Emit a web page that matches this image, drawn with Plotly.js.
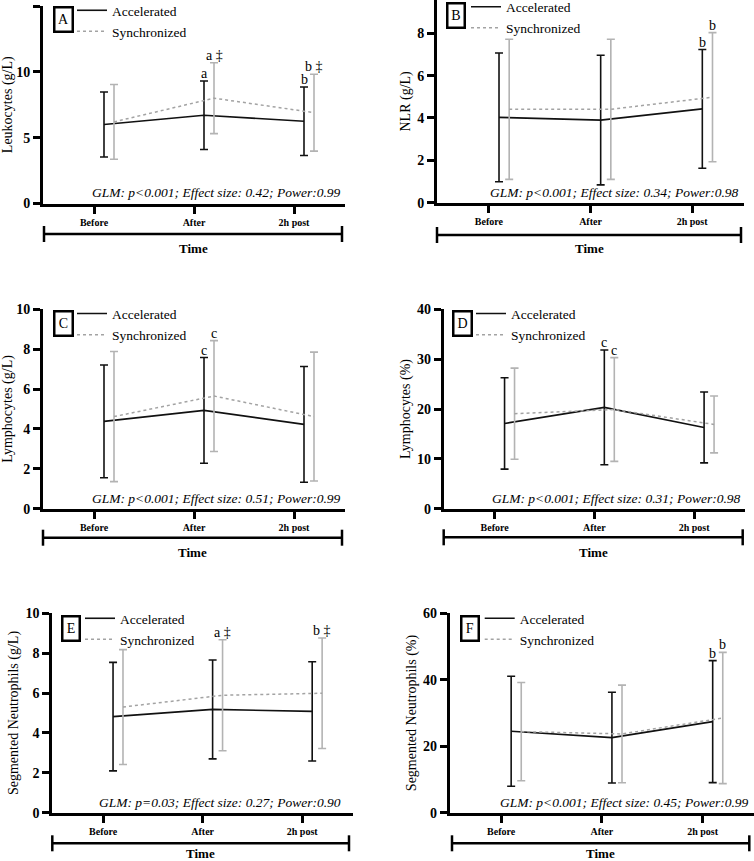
<!DOCTYPE html>
<html>
<head>
<meta charset="utf-8">
<script src="https://cdn.plot.ly/plotly-3.0.1.min.js"></script>
<style>html,body{margin:0;padding:0;background:#fff;}#chart{width:754px;height:861px;}</style>
</head>
<body>
<div id="chart"></div>
<script>
// ---------- DATA ----------
const categories = ["Before", "After", "2h post"];
const seriesNames = ["Accelerated", "Synchronized"];

// A: Leukocytes (g/L)
const leukAccMean = [6.0, 6.7, 6.25];
const leukAccSD   = [2.47, 2.6, 2.6];
const leukSynMean = [6.2, 8.0, 6.9];
const leukSynSD   = [2.84, 2.69, 2.92];
const leukAccMarks = ["", "a", "b"];
const leukSynMarks = ["", "a \u2021", "b \u2021"];

// B: NLR (g/L)
const nlrAccMean = [4.03, 3.9, 4.43];
const nlrAccSD   = [3.04, 3.06, 2.8];
const nlrSynMean = [4.41, 4.41, 4.98];
const nlrSynSD   = [3.31, 3.31, 3.05];
const nlrAccMarks = ["", "", "b"];
const nlrSynMarks = ["", "", "b"];

// C: Lymphocytes (g/L)
const lymAccMean = [4.38, 4.93, 4.23];
const lymAccSD   = [2.83, 2.65, 2.9];
const lymSynMean = [4.62, 5.65, 4.62];
const lymSynSD   = [3.26, 2.78, 3.23];
const lymAccMarks = ["", "c", ""];
const lymSynMarks = ["", "c", ""];

// D: Lymphocytes (%)
const lymPctAccMean = [17.1, 20.33, 16.3];
const lymPctAccSD   = [9.17, 11.5, 7.1];
const lymPctSynMean = [19.06, 19.9, 16.9];
const lymPctSynSD   = [9.14, 10.4, 5.7];
const lymPctAccMarks = ["", "c", ""];
const lymPctSynMarks = ["", "c", ""];

// E: Segmented Neutrophils (g/L)
const neuAccMean = [4.82, 5.18, 5.08];
const neuAccSD   = [2.72, 2.48, 2.49];
const neuSynMean = [5.3, 5.89, 5.99];
const neuSynSD   = [2.88, 2.78, 2.77];
const neuAccMarks = ["", "", ""];
const neuSynMarks = ["", "a \u2021", "b \u2021"];

// F: Segmented Neutrophils (%)
const neuPctAccMean = [24.5, 22.6, 27.4];
const neuPctAccSD   = [16.55, 13.65, 18.35];
const neuPctSynMean = [24.4, 23.7, 28.5];
const neuPctSynSD   = [14.8, 14.7, 19.75];
const neuPctAccMarks = ["", "", "b"];
const neuPctSynMarks = ["", "", "b"];

const panelLetters = ["A", "B", "C", "D", "E", "F"];
const yTitles = ["Leukocytes (g/L)", "NLR (g/L)", "Lymphocytes (g/L)", "Lymphocytes (%)",
                 "Segmented Neutrophils (g/L)", "Segmented Neutrophils (%)"];
const glmTexts = [
  "GLM: p<0.001; Effect size: 0.42; Power:0.99",
  "GLM: p<0.001; Effect size: 0.34; Power:0.98",
  "GLM: p<0.001; Effect size: 0.51; Power:0.99",
  "GLM: p<0.001; Effect size: 0.31; Power:0.98",
  "GLM: p=0.03; Effect size: 0.27; Power:0.90",
  "GLM: p<0.001; Effect size: 0.45; Power:0.99"
];
const xAxisTitle = "Time";

// ---------- LAYOUT GEOMETRY (pixels) ----------
const W = 754, H = 861;
const px = v => v / W;
const py = v => 1 - v / H;
const SERIF = "'Liberation Serif', serif";

const panels = [
  {acc:[leukAccMean, leukAccSD, leukAccMarks], syn:[leukSynMean, leukSynSD, leukSynMarks],
   L:43, R:345, T:6, B:203.5, ymax:15, dtick:5, legX:112, legY:11, box:[54,72,7,32],
   br:[44,342,234], timeY:248, glm:[343,193]},
  {acc:[nlrAccMean, nlrAccSD, nlrAccMarks], syn:[nlrSynMean, nlrSynSD, nlrSynMarks],
   L:437, R:744, T:0, B:202.7, ymax:9.57, dtick:2, legX:506, legY:7.5, box:[447.7,464.7,3.3,28.3],
   br:[437,741,235], timeY:248, glm:[741,192.7]},
  {acc:[lymAccMean, lymAccSD, lymAccMarks], syn:[lymSynMean, lymSynSD, lymSynMarks],
   L:43, R:345, T:309.3, B:508.7, ymax:10, dtick:2, legX:112, legY:314.3, box:[54,72,310.7,336],
   br:[43,342,537.7], timeY:552.3, glm:[343.3,498.3]},
  {acc:[lymPctAccMean, lymPctAccSD, lymPctAccMarks], syn:[lymPctSynMean, lymPctSynSD, lymPctSynMarks],
   L:443.7, R:745, T:309.3, B:508.7, ymax:40, dtick:10, legX:511, legY:314.3, box:[453.7,472,310.7,336],
   br:[443.7,742.7,537.3], timeY:552, glm:[742.7,498.3]},
  {acc:[neuAccMean, neuAccSD, neuAccMarks], syn:[neuSynMean, neuSynSD, neuSynMarks],
   L:52.3, R:353, T:613.3, B:812.7, ymax:10, dtick:2, legX:120, legY:619, box:[62.7,80,615.7,640.7],
   br:[52.3,349,843.3], timeY:853.5, glm:[343.3,802.3]},
  {acc:[neuPctAccMean, neuPctAccSD, neuPctAccMarks], syn:[neuPctSynMean, neuPctSynSD, neuPctSynMarks],
   L:449.7, R:754, T:613.3, B:812.7, ymax:60, dtick:20, legX:519.7, legY:619, box:[462,478.7,615.7,640.7],
   br:[452,749.3,843.3], timeY:853.5, glm:[751,802.3]}
];

const ACC_COLOR = "#111111";
const SYN_LINE = "#a3a3a3";
const SYN_ERR = "#b3b3b3";
const accOffset = 0.1, synOffset = 0.2;

const traces = [];
const annotations = [];
const shapes = [];
const layout = {
  width: W, height: H,
  margin: {l:0, r:0, t:0, b:0, pad:0, autoexpand: false},
  paper_bgcolor: "#fff", plot_bgcolor: "rgba(0,0,0,0)",
  font: {family: SERIF, color: "#000"},
  showlegend: true,
  annotations: annotations,
  shapes: shapes
};

panels.forEach((p, k) => {
  const n = k === 0 ? "" : String(k + 1);
  const xa = "x" + n, ya = "y" + n;
  const legName = "legend" + n;

  layout["xaxis" + n] = {
    domain: [px(p.L), px(p.R)], anchor: ya,
    range: [-0.51, 2.51], tickmode: "array", tickvals: [0, 1, 2], ticktext: categories,
    showline: true, linewidth: 3, linecolor: "#000", mirror: false,
    ticks: "outside", ticklen: 7, tickwidth: 3, tickcolor: "#000",
    tickfont: {family: SERIF, size: 10, weight: "bold", color: "#000"},
    showgrid: false, zeroline: false, fixedrange: true, automargin: false
  };
  layout["yaxis" + n] = {
    domain: [py(p.B), py(p.T)], anchor: xa,
    range: [0, p.ymax], dtick: p.dtick, tick0: 0,
    showline: true, linewidth: 3, linecolor: "#000",
    ticks: "outside", ticklen: 7, tickwidth: 3, tickcolor: "#000",
    tickfont: {family: SERIF, size: 14, weight: "bold", color: "#000"},
    showgrid: false, zeroline: false, fixedrange: true, automargin: false,
    title: {text: yTitles[k], font: {family: SERIF, size: 14, color: "#000"}, standoff: 4}
  };

  const series = [
    {d: p.acc, name: seriesNames[0], off: accOffset, line: {color: ACC_COLOR, width: 1.6, dash: "solid"}, err: ACC_COLOR, grp: "acc"},
    {d: p.syn, name: seriesNames[1], off: synOffset, line: {color: SYN_LINE, width: 1.5, dash: "dot"}, err: SYN_ERR, grp: "syn"}
  ];
  series.forEach(s => {
    const xs = categories.map((_, i) => i + s.off);
    traces.push({
      type: "scatter", mode: "lines", x: xs, y: s.d[0], name: s.name,
      xaxis: xa, yaxis: ya, legend: legName, legendgroup: s.grp + k,
      line: s.line,
      error_y: {type: "data", array: s.d[1], visible: true, color: s.err, thickness: 1.6, width: 4},
      hoverinfo: "skip"
    });
    s.d[2].forEach((m, i) => {
      if (!m) return;
      annotations.push({
        xref: xa, yref: ya, x: xs[i], y: s.d[0][i] + s.d[1][i],
        text: m, showarrow: false, xanchor: "center", yanchor: "bottom", yshift: -2,
        font: {family: SERIF, size: 14, color: "#000"}
      });
    });
  });

  layout[legName] = {
    x: px(p.legX - 40), y: py(p.legY - 16), xanchor: "left", yanchor: "top",
    bgcolor: "rgba(0,0,0,0)", borderwidth: 0, itemwidth: 30,
    traceorder: "grouped", tracegroupgap: 0.5,
    font: {family: SERIF, size: 13.5, color: "#000"}
  };

  // panel letter box
  annotations.push({
    xref: "paper", yref: "paper",
    x: px((p.box[0] + p.box[1]) / 2), y: py((p.box[2] + p.box[3]) / 2),
    xanchor: "center", yanchor: "middle", showarrow: false,
    text: panelLetters[k], font: {family: SERIF, size: 14, color: "#000"},
    bordercolor: "#000", borderwidth: 2.5, borderpad: 0,
    width: p.box[1] - p.box[0] - 2, height: p.box[3] - p.box[2] - 3
  });

  // GLM text
  annotations.push({
    xref: "paper", yref: "paper", x: px(p.glm[0]), y: py(p.glm[1]),
    xanchor: "right", yanchor: "middle", showarrow: false,
    text: "<i>" + glmTexts[k] + "</i>", font: {family: SERIF, size: 13.5, color: "#000"}
  });

  // Time bracket
  const capH = 8;
  shapes.push({type: "line", xref: "paper", yref: "paper", x0: px(p.br[0]), x1: px(p.br[1]), y0: py(p.br[2]), y1: py(p.br[2]), line: {color: "#000", width: 2.5}});
  shapes.push({type: "line", xref: "paper", yref: "paper", x0: px(p.br[0]), x1: px(p.br[0]), y0: py(p.br[2] - capH), y1: py(p.br[2] + capH), line: {color: "#000", width: 2.5}});
  shapes.push({type: "line", xref: "paper", yref: "paper", x0: px(p.br[1]), x1: px(p.br[1]), y0: py(p.br[2] - capH), y1: py(p.br[2] + capH), line: {color: "#000", width: 2.5}});
  annotations.push({
    xref: "paper", yref: "paper", x: px((p.br[0] + p.br[1]) / 2), y: py(p.timeY),
    xanchor: "center", yanchor: "middle", showarrow: false,
    text: "<b>" + xAxisTitle + "</b>", font: {family: SERIF, size: 13, color: "#000"}
  });
});

Plotly.newPlot("chart", traces, layout, {staticPlot: true, displayModeBar: false});
</script>
</body>
</html>
